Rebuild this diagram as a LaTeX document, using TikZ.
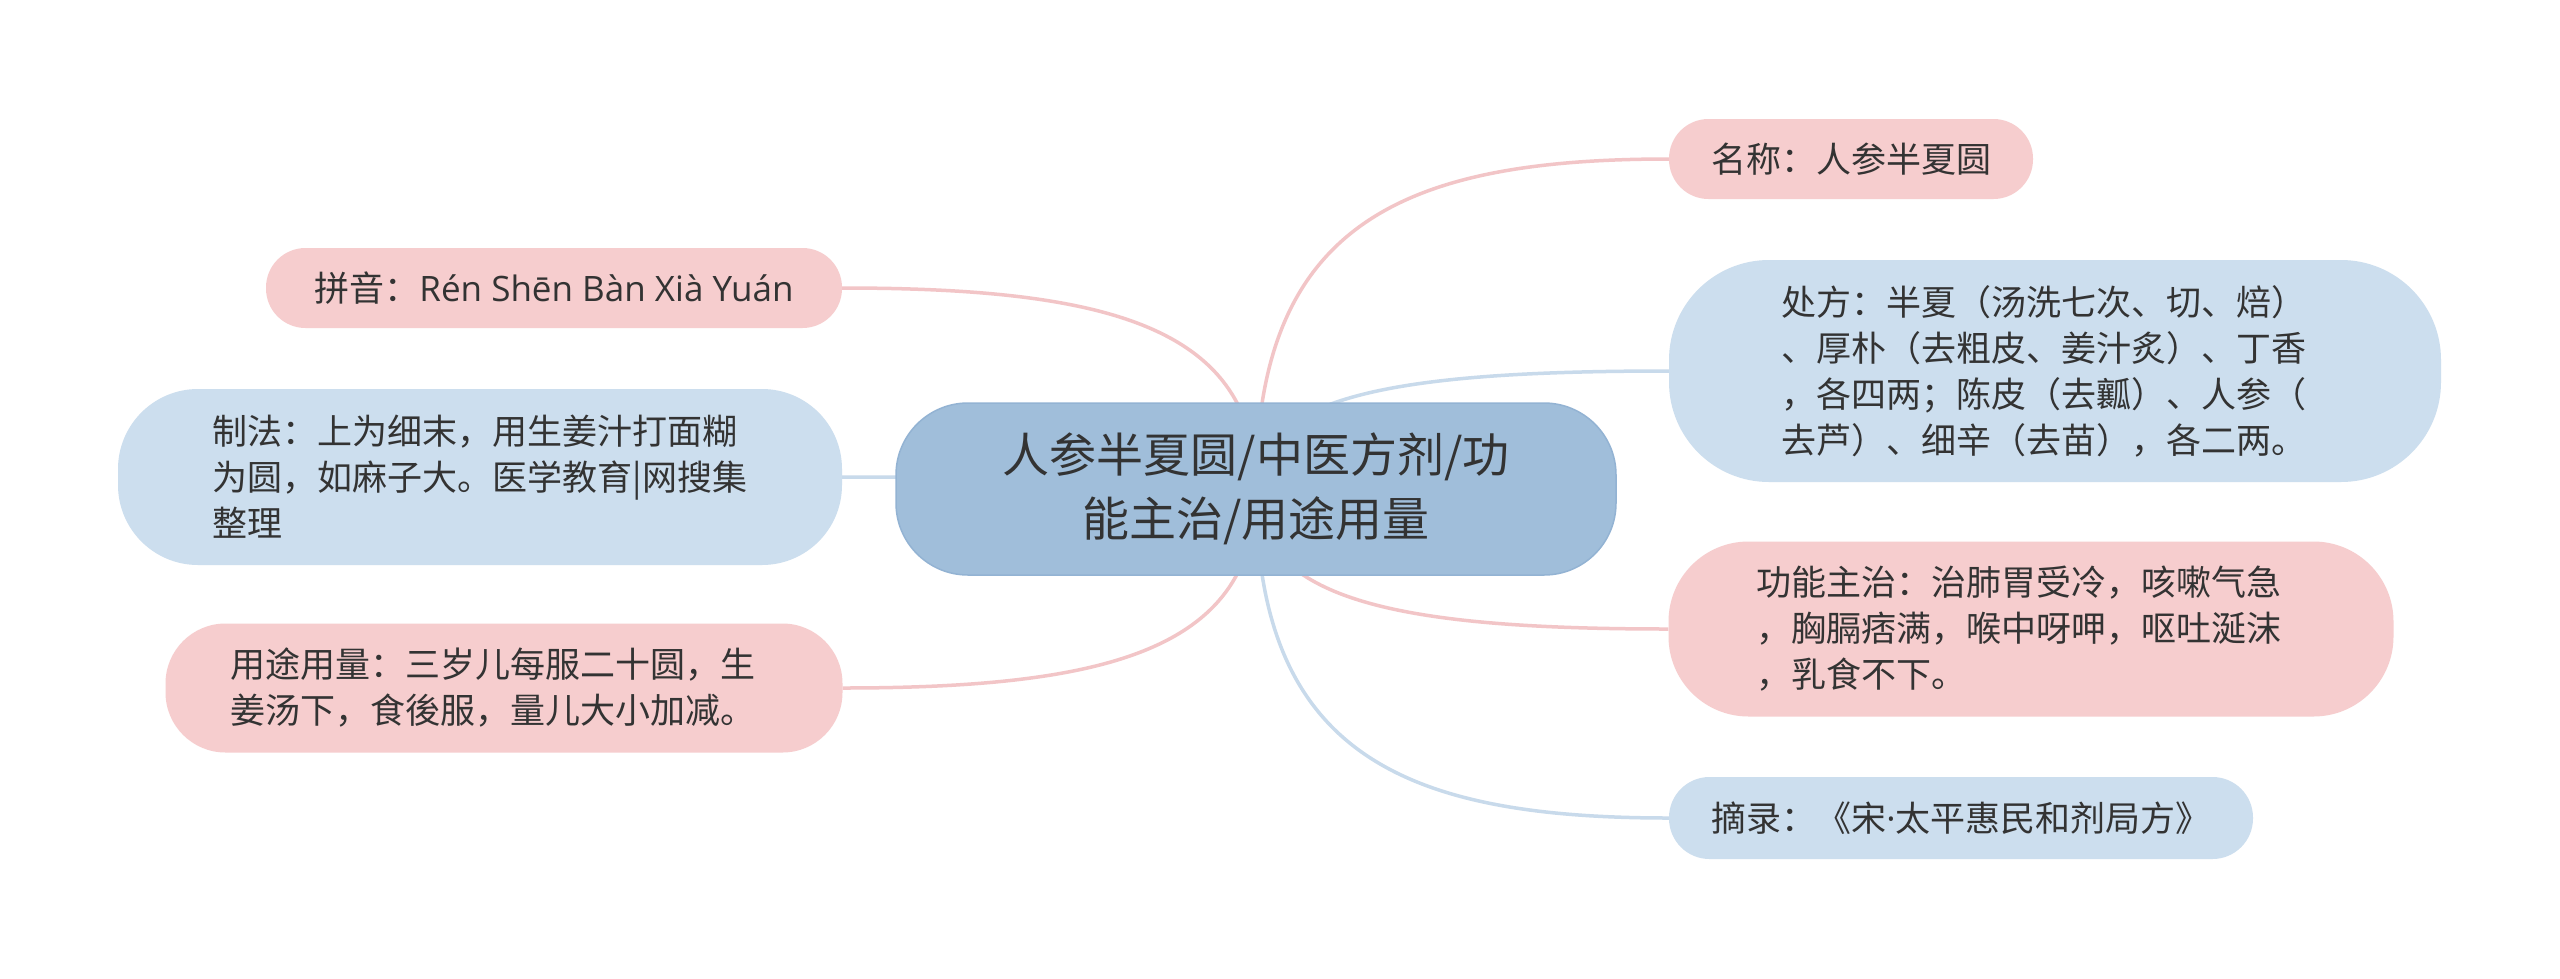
\documentclass[tikz,border=0pt]{standalone}
\usepackage{fontspec}
\setmainfont{Noto Sans CJK SC}
\newfontfamily\latinfont{Open Sans}
\usetikzlibrary{calc,backgrounds}
\definecolor{pinkfill}{HTML}{F6CDCE}
\definecolor{bluefill}{HTML}{CCDEEE}
\definecolor{rootfill}{HTML}{A0BEDA}
\definecolor{rootline}{HTML}{93B3D3}
\definecolor{pinkline}{HTML}{F2C5C7}
\definecolor{blueline}{HTML}{C8DAEB}
\definecolor{txt}{HTML}{333333}
\newcommand\mmconn[3]{\draw[#3] let \p1=(#1.center), \p2=(#2) in (\p1) .. controls (\x1,{\y1+0.8*(\y2-\y1)}) and ({\x1+0.35*(\x2-\x1)},\y2) .. (\p2);}
\begin{document}
\begin{tikzpicture}[x=1pt,y=-1pt,
  leafbox/.style={align=left,text=txt,font=\fontsize{35}{46}\selectfont,inner sep=0pt},
  pinkleaf/.style={leafbox,fill=pinkfill},
  blueleaf/.style={leafbox,fill=bluefill},
  rootbox/.style={align=center,text=txt,font=\fontsize{47}{64}\selectfont,inner sep=0pt,fill=rootfill,draw=rootline,line width=1.5pt},
  pinkconn/.style={draw=pinkline,line width=3.5pt},
  blueconn/.style={draw=blueline,line width=3.5pt}]
\useasboundingbox (0,0) rectangle (2560,978);

\node[rootbox,minimum width=720,minimum height=172,rounded corners=72] (root) at (1256,489)
  {人参半夏圆/中医方剂/功\\能主治/用途用量};

\node[pinkleaf,minimum width=364,minimum height=80,rounded corners=39.5] (mingcheng) at (1851,159)
  {名称：人参半夏圆};
\node[blueleaf,text width=548,minimum width=772,minimum height=222,rounded corners=100] (chufang) at (2055,371)
  {处方：半夏（汤洗七次、切、焙）\\、厚朴（去粗皮、姜汁炙）、丁香\\，各四两；陈皮（去瓤）、人参（\\去芦）、细辛（去苗），各二两。};
\node[pinkleaf,text width=549,minimum width=725,minimum height=175,rounded corners=80] (gongneng) at (2031,629)
  {功能主治：治肺胃受冷，咳嗽气急\\，胸膈痞满，喉中呀呷，呕吐涎沫\\，乳食不下。};
\node[blueleaf,minimum width=584,minimum height=82,rounded corners=40.5] (zhailu) at (1961,818)
  {摘录：《宋{\latinfont ·}太平惠民和剂局方》};

\node[pinkleaf,minimum width=576,minimum height=80,rounded corners=39.5] (pinyin) at (554,288)
  {拼音：{\latinfont Rén Shēn Bàn Xià Yuán}};
\node[blueleaf,minimum width=724,minimum height=176,rounded corners=80] (zhifa) at (480,477)
  {制法：上为细末，用生姜汁打面糊\\为圆，如麻子大。医学教育|网搜集\\整理};
\node[pinkleaf,text width=547,minimum width=677,minimum height=129,rounded corners=60] (yongtu) at (504,688)
  {用途用量：三岁儿每服二十圆，生\\姜汤下，食後服，量儿大小加减。};

\begin{pgfonlayer}{background}
\fill[white] (0,0) rectangle (2560,978);
\mmconn{root}{mingcheng.west}{pinkconn}
\mmconn{root}{chufang.west}{blueconn}
\mmconn{root}{gongneng.west}{pinkconn}
\mmconn{root}{zhailu.west}{blueconn}
\mmconn{root}{pinyin.east}{pinkconn}
\mmconn{root}{zhifa.east}{blueconn}
\mmconn{root}{yongtu.east}{pinkconn}
\end{pgfonlayer}
\end{tikzpicture}
\end{document}
